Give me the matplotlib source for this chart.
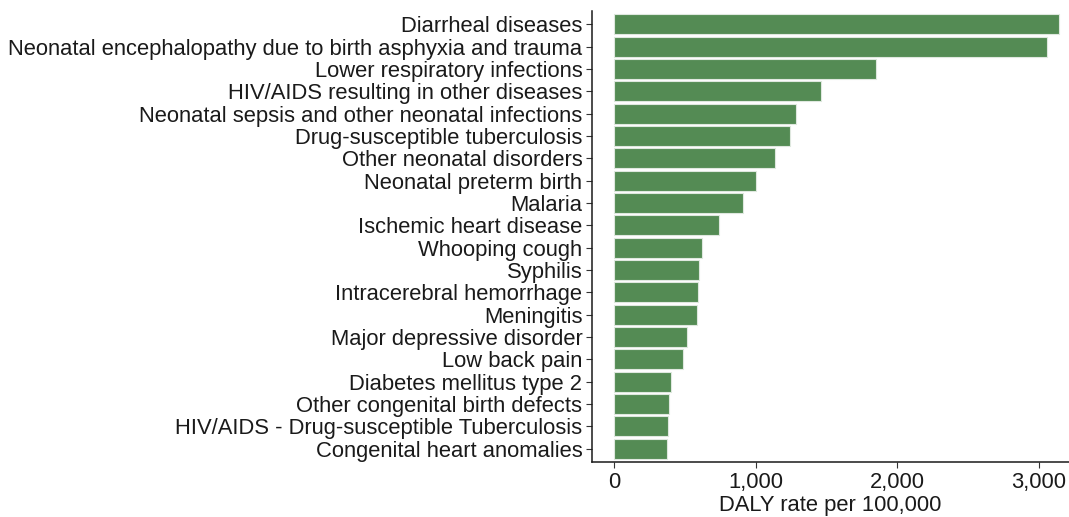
import matplotlib
matplotlib.use('Agg')
import matplotlib.pyplot as plt
from matplotlib.ticker import FuncFormatter

plt.rcParams['font.family'] = ['Liberation Sans', 'DejaVu Sans']

# 数据（从上到下）
causes = [
    'Diarrheal diseases',
    'Neonatal encephalopathy due to birth asphyxia and trauma',
    'Lower respiratory infections',
    'HIV/AIDS resulting in other diseases',
    'Neonatal sepsis and other neonatal infections',
    'Drug-susceptible tuberculosis',
    'Other neonatal disorders',
    'Neonatal preterm birth',
    'Malaria',
    'Ischemic heart disease',
    'Whooping cough',
    'Syphilis',
    'Intracerebral hemorrhage',
    'Meningitis',
    'Major depressive disorder',
    'Low back pain',
    'Diabetes mellitus type 2',
    'Other congenital birth defects',
    'HIV/AIDS - Drug-susceptible Tuberculosis',
    'Congenital heart anomalies',
]
daly_rate = [3140, 3054, 1851, 1463, 1282, 1242, 1134, 1000, 912, 739,
             623, 602, 593, 584, 515, 487, 400, 390, 379, 372]

fs = 15.8

fig = plt.figure(figsize=(10.69, 5.17), dpi=100)
ax = fig.add_axes([592 / 1069, 55 / 517, 1 - 592 / 1069, 451 / 517])

n = len(causes)
ypos = list(range(n, 0, -1))
ax.barh(ypos, daly_rate, height=0.9, color='#548B54',
        edgecolor='#dfe8df', linewidth=0.8)

ax.set_yticks(ypos)
ax.set_yticklabels(causes, fontsize=fs, color='#1a1a1a')
ax.set_ylim(0.4, n + 0.6)
ax.set_xlim(-157, 3211)
ax.set_xticks([0, 1000, 2000, 3000])
ax.xaxis.set_major_formatter(FuncFormatter(lambda v, p: f'{int(v):,}'))
ax.tick_params(axis='x', labelsize=fs, colors='#333333', length=4, width=0.8, labelcolor='#1a1a1a', pad=3)
ax.tick_params(axis='y', colors='#333333', length=4, width=0.8, labelcolor='#1a1a1a', pad=3)
ax.set_xlabel('DALY rate per 100,000', fontsize=fs, color='#1a1a1a', labelpad=2)

for s in ['top', 'right']:
    ax.spines[s].set_visible(False)
for s in ['left', 'bottom']:
    ax.spines[s].set_linewidth(1.1)
    ax.spines[s].set_color('#1a1a1a')

fig.savefig('out.png', dpi=100)
